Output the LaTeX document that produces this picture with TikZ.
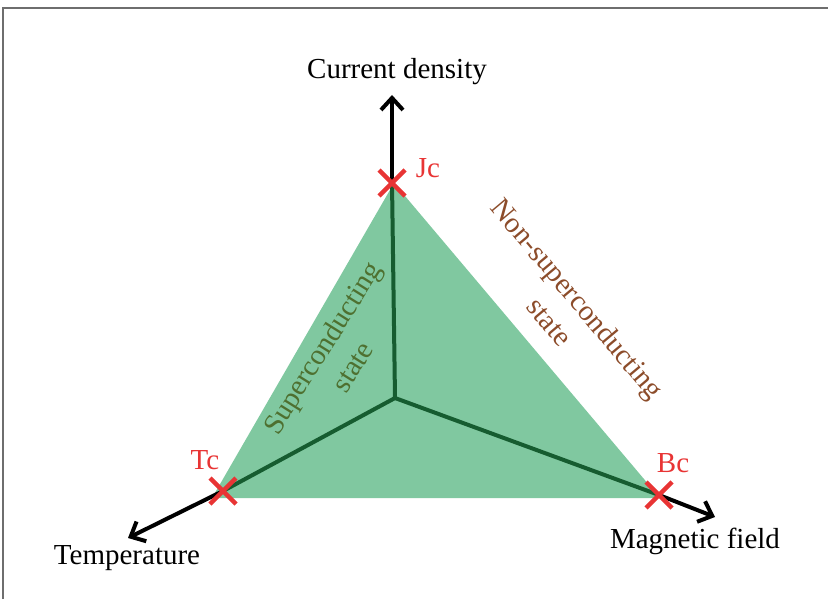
\documentclass[tikz,border=0pt]{standalone}
\usepackage{fontspec}
\setmainfont{Liberation Serif}
\usepackage{xcolor}
\definecolor{phaseFill}{RGB}{128,200,160}
\definecolor{phaseLine}{RGB}{22,92,48}
\definecolor{critRed}{RGB}{232,52,52}
\definecolor{scText}{RGB}{78,112,48}
\definecolor{nscText}{RGB}{140,76,42}
\definecolor{frameGray}{RGB}{110,110,110}
\usetikzlibrary{arrows.meta,positioning,calc}
\tikzstyle{frame}=[frameGray, line width=1pt]
\tikzstyle{boundary}=[phaseLine, line width=2pt, line cap=round]
\tikzstyle{axis}=[black, line width=2pt, -{Straight Barb[length=6pt,width=11pt,line width=2pt]}]
\tikzstyle{axislabel}=[inner sep=0pt, font=\fontsize{14.5}{18}\selectfont]
\tikzstyle{critlabel}=[inner sep=0pt, text=critRed, font=\fontsize{14.5}{18}\selectfont]
\tikzstyle{cross}=[critRed, line width=2.2pt]
\tikzstyle{phasetext}=[inner sep=0pt, align=center, font=\fontsize{14.5}{18}\selectfont]

\begin{document}
\begin{tikzpicture}[x=0.5pt,y=-0.5pt]
  \useasboundingbox (0,0) rectangle (828,599);
  % frame
  \draw[frame] (3,599) -- (3,8) -- (828,8);
  % critical points and origin
  \coordinate (O) at (395,398);
  \coordinate (Jc) at (392,183);
  \coordinate (Tc) at (223,491);
  \coordinate (Bc) at (659,495);
  % superconducting region
  \fill[phaseFill] (394,183) -- (660,498) -- (212,498) -- cycle;
  \foreach \p in {Jc,Tc,Bc}{
    \draw[boundary] (O) -- (\p);
  }
  % axes
  \coordinate (Jtip) at (392,95);
  \coordinate (Ttip) at (128,538);
  \coordinate (Btip) at (715,517);
  \draw[axis] (Jc) -- (Jtip);
  \draw[axis] (Tc) -- (Ttip);
  \draw[axis] (Bc) -- (Btip);
  \node[axislabel] (jlab) at (397,72) {Current density};
  \node[axislabel] (tlab) at (127,558) {Temperature};
  \node[axislabel] (blab) at (695,541) {Magnetic field};
  % crosses
  \foreach \p in {Jc,Tc,Bc}{
    \draw[cross] ($(\p)+(-13,-13)$) -- ($(\p)+(13,13)$)
                 ($(\p)+(-13,13)$) -- ($(\p)+(13,-13)$);
  }
  \node[critlabel] (jclab) at (428,168) {Jc};
  \node[critlabel] (tclab) at (205,460) {Tc};
  \node[critlabel] (bclab) at (673,463) {Bc};
  % phase names
  \node[phasetext, text=scText, rotate=58] (sc) at (337,357) {Superconducting\\state};
  \node[phasetext, text=nscText, rotate=-50] (nsc) at (564,310) {Non-superconducting\\state};
\end{tikzpicture}
\end{document}
